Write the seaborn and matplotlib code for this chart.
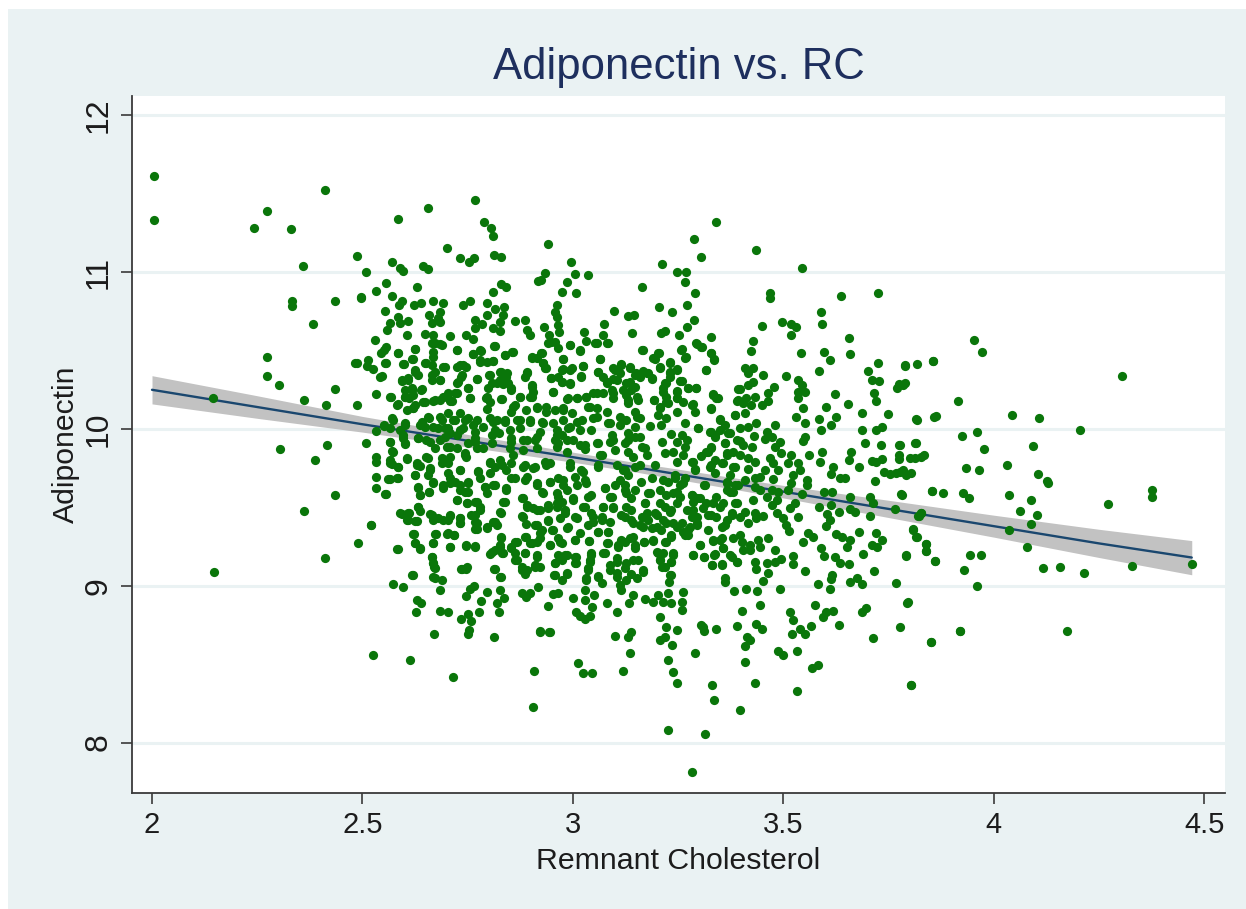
import matplotlib
matplotlib.use("Agg")
import matplotlib.pyplot as plt
from matplotlib.patches import Rectangle
import pandas as pd
import seaborn as sns

# values, one pair of lists per region of the cloud
outer_rc = [2.005,2.005,2.242,2.273,2.411,2.33,2.359,2.333,2.333,2.382,2.435,2.273,2.273,2.302,2.361,2.145,2.413,2.435,2.482,2.496,2.304,2.416,2.387,2.435,2.361,2.49,2.411,2.147,2.52,2.525,2.613,2.715,2.905,2.907,3.226,3.314,3.283,3.33,3.335,3.397,3.432,3.532,3.803,3.85,3.919,3.012,3.024,3.045,3.119,3.135,3.13,3.207,3.235,3.226,3.238,3.247,3.29,3.309,3.409,3.42,3.487,3.5,3.532,3.568,3.582,3.409,2.922,2.945]
outer_adipo = [11.614,11.333,11.282,11.39,11.525,11.276,11.04,10.817,10.785,10.67,10.817,10.459,10.338,10.28,10.185,10.2,10.153,10.255,10.42,10.84,9.87,9.9,9.8,9.58,9.477,9.27,9.18,9.087,9.39,8.558,8.526,8.418,8.226,8.456,8.08,8.054,7.81,8.37,8.27,8.207,8.38,8.33,8.367,8.64,8.71,8.507,8.443,8.443,8.456,8.57,8.67,8.654,8.62,8.526,8.45,8.38,8.57,8.737,8.616,8.654,8.584,8.558,8.584,8.475,8.494,8.514,8.705,8.705]

upper_left_rc = [2.767,2.656,2.585,2.789,2.805,2.809,2.941,2.70,2.486,2.732,2.754,2.765,2.813,2.829,2.571,2.589,2.597,2.643,2.656,2.508,2.996,2.933,3.006,3.035,2.918,2.924,2.986,2.557,2.629,2.828,2.84,2.532,2.81,2.975,3.007,2.496,2.571,2.593,2.586,2.622,2.64,2.668,2.692,2.738,2.755,2.796,2.963,2.836,2.815,2.957,2.553,3.097,2.796,2.684,2.659,2.68,3.131,3.145,2.585,2.565,2.589,2.609,2.664,2.684,2.767,2.834,2.826,2.862,2.887,2.961,2.965,3.074,2.931,2.783,2.767,2.811,2.826,2.559,2.89,2.967,2.606,2.648,2.667,2.709,2.747,2.762,2.898,2.942,3.026,3.141,3.072,2.53,3.032,2.949,2.993,3.056,3.08,2.555,2.672,2.684,2.813,2.965,3.017,2.625,2.724,2.545,2.585,2.668,2.762,2.781,2.838,2.856,2.925,2.902,2.977,3.064,2.486,2.514,2.555,2.598,2.619,2.651,2.78,2.809,2.93]
upper_left_adipo = [11.46,11.41,11.34,11.32,11.285,11.23,11.18,11.155,11.106,11.09,11.065,11.09,11.11,11.095,11.068,11.03,11.01,11.04,11.02,11.0,11.068,10.993,10.99,10.983,10.946,10.95,10.938,10.93,10.906,10.923,10.906,10.883,10.876,10.872,10.866,10.838,10.846,10.817,10.79,10.79,10.806,10.815,10.806,10.79,10.817,10.804,10.793,10.78,10.763,10.749,10.751,10.753,10.729,10.749,10.727,10.706,10.723,10.73,10.712,10.678,10.674,10.691,10.674,10.685,10.695,10.727,10.685,10.689,10.695,10.712,10.663,10.672,10.653,10.67,10.642,10.642,10.625,10.634,10.632,10.621,10.597,10.608,10.6,10.595,10.6,10.574,10.6,10.6,10.619,10.614,10.6,10.568,10.563,10.557,10.536,10.546,10.546,10.525,10.546,10.542,10.529,10.514,10.5,10.51,10.502,10.483,10.483,10.493,10.478,10.5,10.472,10.491,10.483,10.451,10.445,10.445,10.423,10.438,10.419,10.412,10.446,10.419,10.43,10.434,10.419]

shoulder_left_rc = [2.51,2.526,2.542,2.738,2.724,2.625,2.633,2.672,2.696,2.684,2.664,2.593,2.609,2.724,2.735,2.771,2.801,2.83,2.842,2.826,2.834,2.89,2.886,2.933,2.949,2.973,2.997,3.024,3.02,2.973,2.993,3.06,3.08,3.10,3.115,3.135,3.15,3.104,3.127,3.147,2.532,2.567,2.585,2.486,2.751,2.755,2.601,2.617,2.64,2.61,2.644,2.672,2.70,2.72,2.708,2.685,2.799,2.807,2.793,2.83,2.854,2.874,2.902,2.902,2.953,2.989,3.009,3.032,3.056,3.096,3.12,3.131,3.151,2.858,2.914,2.937,2.977,3.04,2.621]
shoulder_left_adipo = [10.40,10.38,10.334,10.408,10.398,10.376,10.344,10.366,10.398,10.312,10.312,10.312,10.312,10.295,10.334,10.317,10.344,10.366,10.334,10.312,10.287,10.359,10.334,10.387,10.323,10.376,10.387,10.402,10.334,10.302,10.287,10.366,10.302,10.376,10.408,10.387,10.355,10.312,10.291,10.27,10.223,10.206,10.159,10.153,10.259,10.195,10.206,10.249,10.249,10.195,10.174,10.185,10.206,10.227,10.18,10.185,10.259,10.291,10.195,10.191,10.259,10.206,10.27,10.206,10.238,10.195,10.195,10.206,10.227,10.227,10.249,10.185,10.206,10.142,10.142,10.142,10.131,10.142,10.131]

upper_right_rc = [3.34,3.288,3.434,3.305,3.212,3.545,3.247,3.268,3.267,3.165,3.29,3.467,3.468,3.636,3.725,3.272,3.204,3.235,3.59,3.287,3.496,3.517,3.529,3.591,3.449,3.27,3.218,3.21,3.252,3.327,3.517,3.655,3.427,3.292,3.305,3.167,3.257,3.423,3.329,3.541,3.597,3.657,3.205,3.267,3.335,3.195,3.61,3.231,3.79,3.855,3.207,3.317,3.408,3.428,3.167,3.179,3.23,3.246,3.584,3.702,3.416,3.188,3.23,3.452,3.505,3.534,3.727,3.258,3.218,3.428,3.784,3.769,3.416,3.274,3.292,3.478,3.545,3.397,3.464,3.213,3.248,3.535,3.551,3.333,3.345,3.715,3.623,3.192,3.393,3.412,3.432,3.464,3.534,3.719,3.246,3.222,3.262,3.286,3.404,3.424,3.448,3.653,3.207,3.328,3.547,3.602]
upper_right_adipo = [11.321,11.21,11.14,11.10,11.053,11.03,11.0,11.004,10.94,10.906,10.87,10.87,10.838,10.85,10.866,10.793,10.78,10.744,10.746,10.695,10.685,10.67,10.653,10.67,10.657,10.651,10.627,10.61,10.597,10.585,10.597,10.58,10.563,10.546,10.521,10.502,10.506,10.495,10.485,10.487,10.491,10.476,10.483,10.453,10.44,10.449,10.44,10.427,10.408,10.436,10.391,10.376,10.391,10.387,10.372,10.359,10.366,10.376,10.372,10.368,10.359,10.319,10.334,10.344,10.338,10.312,10.306,10.308,10.291,10.302,10.283,10.264,10.28,10.261,10.261,10.27,10.28,10.253,10.227,10.238,10.244,10.238,10.238,10.223,10.195,10.232,10.223,10.185,10.185,10.195,10.202,10.18,10.195,10.178,10.195,10.174,10.174,10.159,10.163,10.153,10.153,10.161,10.142,10.136,10.131,10.138]

right_rc = [3.686,3.749,3.815,3.857,3.531,3.551,3.584,3.59,3.614,3.624,3.686,3.72,3.733,3.551,3.547,3.693,3.731,3.777,3.815,3.56,3.591,3.587,3.66,3.656,3.711,3.721,3.735,3.775,3.801,3.826,3.68,3.617,3.613,3.634,3.646,3.754,3.777,3.783,3.802,3.717,3.555,3.557,3.543,3.596,3.615,3.659,3.705,3.713,3.779,3.853,3.614,3.584,3.631,3.658,3.67,3.765,3.705,3.82,3.828,3.535,3.604,3.61,3.602,3.513,3.679,3.808,3.816,3.559,3.571,3.547,3.626,3.638,3.658,3.65,3.721,3.735,3.711,3.723,3.838,3.838,3.59,3.597,3.622,3.634,3.656,3.689,3.791,3.86,3.716,3.551,3.615,3.614,3.658,3.674,3.686,3.581,3.61,3.768,3.361,3.452,3.464,3.383,3.412,3.438,3.492,3.444,3.575,3.794,3.401,3.515,3.523,3.618,3.602,3.593,3.696,3.686,3.632,3.389,3.436,3.448,3.565,3.539,3.551,3.521,3.776,3.341,3.305,3.311,3.248,3.221,3.218,3.414,3.712]
right_adipo = [10.10,10.095,10.061,10.078,10.078,10.04,10.061,9.993,10.025,10.078,9.993,9.993,10.01,9.951,9.925,9.908,9.895,9.895,9.908,9.834,9.855,9.791,9.855,9.802,9.795,9.791,9.808,9.806,9.815,9.819,9.755,9.759,9.712,9.685,9.685,9.715,9.723,9.738,9.717,9.668,9.674,9.642,9.585,9.595,9.595,9.568,9.564,9.53,9.583,9.602,9.517,9.502,9.472,9.489,9.472,9.489,9.447,9.444,9.461,9.44,9.457,9.419,9.383,9.351,9.344,9.359,9.31,9.338,9.312,9.281,9.327,9.312,9.291,9.249,9.334,9.291,9.259,9.244,9.266,9.223,9.242,9.191,9.185,9.142,9.14,9.202,9.193,9.159,9.095,9.091,9.068,9.04,9.021,9.047,9.01,9.008,8.98,9.019,9.025,9.029,9.08,8.966,8.978,8.966,8.978,8.878,8.876,8.893,8.84,8.834,8.781,8.838,8.834,8.802,8.861,8.834,8.749,8.744,8.759,8.727,8.742,8.727,8.691,8.691,8.734,8.725,8.749,8.71,8.717,8.734,8.674,8.67,8.668]

core_right_rc = [3.385,3.408,3.349,3.436,3.48,3.397,3.416,3.298,3.329,3.349,3.369,3.337,3.43,3.46,3.472,3.492,3.456,3.48,3.397,3.361,3.404,3.426,3.329,3.321,3.305,3.365,3.381,3.495,3.518,3.397,3.416,3.432,3.468,3.476,3.486,3.511,3.535,3.539,3.523,3.337,3.353,3.325,3.337,3.282,3.29,3.385,3.416,3.456,3.444,3.432,3.476,3.373,3.408,3.365,3.393,3.365,3.381,3.432,3.444,3.519,3.511,3.472,3.488,3.313,3.266,3.242,3.254,3.282,3.302,3.285,3.226,3.207,3.183,3.238,3.254,3.46,3.484,3.472,3.428,3.385,3.527,3.515,3.333,3.349,3.309,3.285,3.27,3.218,3.234,3.195,3.171,3.175,3.377,3.408,3.432,3.484,3.499,3.452,3.436,3.416,3.397,3.365,3.353,3.329,3.341,3.294,3.294,3.278,3.274,3.258,3.262,3.238,3.234,3.214,3.21,3.187,3.167,3.179,3.163,3.507,3.397,3.401,3.42,3.44,3.464,3.48,3.404,3.42,3.444,3.349,3.332,3.302,3.357,3.286,3.312,3.337,3.373,3.389,3.331,3.355,3.432,3.434,3.46,3.48,3.495,3.522,3.523,3.169,3.191,3.218,3.199,3.214,3.238,3.207,3.234,3.218,3.234,3.229,3.167,3.226,3.262,3.203,3.171,3.191,3.214,3.232,3.258,3.258,3.207]
core_right_adipo = [10.089,10.1,10.057,10.04,10.025,10.004,10.01,10.004,9.983,9.993,9.976,9.951,9.955,9.983,9.951,9.919,9.934,9.887,9.925,9.912,9.898,9.887,9.876,9.855,9.827,9.844,9.855,9.844,9.834,9.834,9.812,9.791,9.812,9.781,9.738,9.781,9.781,9.738,9.706,9.802,9.781,9.759,9.717,9.791,9.738,9.759,9.742,9.738,9.695,9.685,9.678,9.706,9.674,9.653,9.642,9.61,9.6,9.627,9.61,9.653,9.61,9.61,9.6,9.642,9.685,9.706,9.642,9.578,9.557,9.536,9.664,9.61,9.589,9.589,9.568,9.564,9.546,9.515,9.546,9.525,9.525,9.493,9.525,9.504,9.493,9.483,9.483,9.504,9.483,9.461,9.525,9.461,9.461,9.472,9.461,9.461,9.43,9.444,9.43,9.398,9.44,9.419,9.376,9.451,9.44,9.44,9.398,9.376,9.323,9.398,9.344,9.398,9.323,9.419,9.355,9.366,9.376,9.419,9.44,9.387,9.323,9.281,9.259,9.291,9.302,9.227,9.227,9.227,9.249,9.291,9.287,9.259,9.238,9.196,9.185,9.2,9.196,9.153,9.13,9.136,9.153,9.11,9.147,9.153,9.168,9.189,9.138,9.276,9.287,9.276,9.217,9.206,9.206,9.164,9.153,9.121,9.068,9.025,9.089,8.951,8.961,8.94,8.913,8.898,8.898,8.887,8.898,8.844,8.802]

lower_left_rc = [2.532,2.508,2.565,2.569,2.532,2.532,2.565,2.57,2.585,2.605,2.629,2.637,2.656,2.66,2.656,2.625,2.532,2.532,2.555,2.565,2.585,2.633,2.636,2.658,2.633,2.52,2.584,2.593,2.61,2.609,2.629,2.664,2.68,2.708,2.704,2.732,2.732,2.622,2.625,2.637,2.672,2.668,2.701,2.718,2.708,2.746,2.767,2.664,2.668,2.672,2.619,2.672,2.688,2.684,2.572,2.597,2.63,2.64,2.627,2.684,2.702,2.733,2.751,2.758,2.778,2.754,2.751,2.669,2.812,2.825,2.819,2.836,2.781,2.795,2.755,2.766,2.746,2.827,2.828,2.812,2.735,2.747,2.878,2.898,2.888,2.918,2.953,2.965,2.941,3.0,3.028,3.028,3.051,3.046,3.082,3.105,3.007,3.017,3.028,3.04,2.922,2.944,3.10,3.139,3.133,3.143]
lower_left_adipo = [9.989,9.912,9.915,9.861,9.823,9.791,9.802,9.775,9.759,9.806,9.781,9.765,9.812,9.738,9.706,9.706,9.691,9.621,9.583,9.678,9.685,9.621,9.578,9.6,9.504,9.387,9.232,9.457,9.461,9.419,9.413,9.451,9.43,9.447,9.42,9.43,9.398,9.327,9.27,9.236,9.329,9.274,9.332,9.323,9.249,9.257,9.253,9.185,9.142,9.115,9.068,9.047,9.036,8.976,9.012,8.995,8.912,8.891,8.834,8.838,8.834,8.791,8.819,8.776,8.832,8.717,8.691,8.695,8.674,8.834,8.887,8.919,8.9,8.957,8.982,8.997,8.934,8.976,9.053,9.108,9.11,9.11,8.951,8.951,8.93,8.993,8.946,8.951,8.874,8.925,8.972,8.912,8.944,8.866,8.893,8.83,8.834,8.806,8.791,8.806,8.712,8.702,8.679,8.706,8.891,8.94]

core_left_rc = [2.55,2.569,2.565,2.601,2.597,2.601,2.633,2.637,2.656,2.668,2.652,2.684,2.696,2.716,2.708,2.684,2.7,2.688,2.704,2.732,2.744,2.763,2.751,2.744,2.724,2.787,2.787,2.767,2.811,2.807,2.838,2.85,2.854,2.825,2.874,2.898,2.882,2.91,2.93,2.961,2.965,2.993,3.001,3.028,3.021,3.056,3.056,3.088,3.096,3.127,3.123,3.151,3.147,2.732,2.775,2.803,2.826,2.854,2.815,2.842,2.886,2.91,2.945,2.933,2.993,3.024,3.064,3.06,3.104,3.123,3.147,2.668,2.692,2.708,2.72,2.732,2.751,2.744,2.779,2.791,2.811,2.842,2.862,2.886,2.914,2.926,2.945,2.965,2.977,3.009,3.032,3.076,3.1,3.123,3.127,3.147,2.724,2.749,2.767,2.779,2.767,2.771,2.767,2.795,2.815,2.828,2.834,2.88,2.89,2.906,2.88,2.888,2.922,2.941,2.941,2.965,2.961,2.981,2.969,3.001,3.009,2.989,2.953,3.028,3.036,3.048,3.072,3.092,3.096,3.068,3.036,3.017,3.06,3.084,3.123,3.139,3.143]
core_left_adipo = [10.025,10.068,10.004,10.036,9.961,9.908,9.94,10.025,10.078,10.015,9.93,10.078,10.004,10.057,9.972,9.93,9.887,9.812,9.781,9.993,10.057,10.025,9.908,9.834,9.876,10.015,9.876,9.919,10.047,9.961,10.057,9.993,9.919,9.972,10.057,10.057,9.93,9.93,10.036,9.961,9.908,10.015,9.93,9.898,10.057,10.078,9.908,10.036,9.93,10.057,9.908,10.078,9.951,9.738,9.734,9.791,9.802,9.781,9.759,9.738,9.77,9.759,9.781,9.791,9.759,9.727,9.834,9.759,9.77,9.738,9.759,9.664,9.642,9.685,9.664,9.642,9.664,9.6,9.685,9.632,9.642,9.621,9.685,9.674,9.642,9.6,9.664,9.685,9.642,9.642,9.653,9.621,9.642,9.642,9.589,9.61,9.546,9.525,9.536,9.504,9.451,9.398,9.359,9.372,9.408,9.461,9.536,9.557,9.515,9.493,9.444,9.391,9.483,9.515,9.419,9.568,9.504,9.483,9.43,9.557,9.43,9.376,9.355,9.504,9.568,9.44,9.504,9.568,9.493,9.419,9.387,9.334,9.344,9.344,9.44,9.483,9.398]

lower_core_rc = [2.886,2.914,2.922,2.914,2.898,2.945,2.969,3.006,3.039,3.08,3.108,3.123,3.143,3.147,2.829,2.827,2.815,2.803,2.834,2.854,2.862,2.862,2.866,2.886,2.914,2.91,2.922,2.878,2.886,2.957,2.965,2.987,2.973,3.007,3.007,3.044,3.04,3.036,3.076,3.104,3.088,3.127,3.143,2.957,2.985,2.975,3.032,3.06,3.068,3.104,3.112,3.127,3.139,3.115]
lower_core_adipo = [9.312,9.387,9.334,9.281,9.27,9.259,9.281,9.291,9.285,9.27,9.259,9.281,9.312,9.259,9.306,9.249,9.227,9.202,9.206,9.249,9.281,9.206,9.164,9.206,9.196,9.121,9.121,9.121,9.078,9.142,9.196,9.196,9.164,9.185,9.142,9.206,9.153,9.1,9.206,9.153,9.1,9.142,9.164,9.068,9.078,9.036,9.036,9.057,9.015,9.057,9.004,9.036,9.078,8.972]

far_right_rc = [4.128,3.854,3.878,3.927,3.94,4.037,4.088,4.062,4.103,4.089,4.036,4.272,4.376,4.376,3.781,3.821,3.828,3.807,3.817,3.839,3.839,3.86,3.791,3.943,3.969,3.93,3.96,4.079,4.116,4.157,4.213,4.327,4.47,3.795,3.92,3.851,4.174,3.803,3.952,3.971,4.304,3.915,3.924,3.96,3.976,4.043,4.107,4.204,3.933,3.964,4.03,4.093,4.105,4.126,3.817,3.855,3.789,3.774,3.789,3.725,3.71,3.817,3.862,3.812,3.774,3.774,3.812,3.834,3.791,3.767,3.739]
far_right_adipo = [9.658,9.603,9.594,9.594,9.56,9.581,9.547,9.475,9.45,9.396,9.356,9.522,9.611,9.569,9.581,9.445,9.462,9.358,9.309,9.264,9.224,9.16,9.192,9.196,9.194,9.103,9.0,9.247,9.111,9.118,9.081,9.128,9.141,8.894,8.709,8.639,8.709,8.364,10.568,10.49,10.34,10.18,9.955,9.98,9.87,10.09,10.07,9.994,9.75,9.74,9.77,9.89,9.71,9.67,10.415,10.433,10.4,10.287,10.293,10.42,10.31,10.057,10.083,9.91,9.9,9.834,9.815,9.834,9.706,9.72,9.726]

# second pass over the dense middle of the cloud
dense_a_rc = [2.664,2.688,2.815,2.55,2.585,2.625,2.725,2.762,2.779,2.839,2.857,2.926,2.941,2.957,2.553,2.597,2.618,2.648,2.668,2.664,2.692,2.732,2.747,2.779,2.795,2.811,2.902,2.914,2.93,2.937,2.625,2.664,2.684,2.736,2.728,2.771,2.803,2.827,2.843,2.89,2.546,2.949,2.965,2.593,2.609,2.601,2.617,2.641,2.751,2.819,2.846,2.854,2.902,2.906,2.953,2.621,2.565,2.601,2.668,2.692,2.704,2.724,2.712,2.755,2.795,2.803,2.831,2.874,2.898,2.648,2.625,2.583,2.605,2.621,2.795,2.862,2.854,2.888,2.914,2.937,2.957,2.704,2.732,2.573,2.641,2.659,2.688,2.72,2.751,2.771,2.803,2.819,2.838,2.866,2.898,2.926,2.953,2.55,2.589,2.601,2.648,2.68,2.704,2.74,2.767,2.815,2.874,2.922,2.961,2.565,2.597,2.633,2.66,2.696,2.724,2.767,2.807,2.854,2.89,2.914,2.957,2.573,2.601,2.672,2.708,2.744,2.771,2.85,2.882,2.914,2.961,2.605,2.652,2.708,2.747,2.858]
dense_a_adipo = [10.547,10.536,10.53,10.504,10.483,10.508,10.504,10.479,10.504,10.472,10.494,10.483,10.551,10.557,10.423,10.415,10.447,10.419,10.462,10.408,10.398,10.408,10.398,10.44,10.43,10.436,10.457,10.451,10.419,10.387,10.366,10.345,10.313,10.345,10.302,10.317,10.345,10.366,10.355,10.362,10.338,10.323,10.334,10.308,10.323,10.249,10.26,10.253,10.26,10.291,10.291,10.249,10.281,10.238,10.238,10.217,10.206,10.202,10.181,10.206,10.228,10.232,10.181,10.196,10.206,10.174,10.189,10.202,10.202,10.174,10.153,10.153,10.121,10.132,10.125,10.153,10.111,10.121,10.132,10.111,10.121,10.1,10.1,10.057,10.047,10.068,10.057,10.057,10.068,10.057,10.068,10.057,10.047,10.057,10.047,10.047,10.036,10.019,9.993,10.025,10.015,10.004,10.004,10.004,9.983,9.993,10.004,9.983,9.993,9.919,9.94,9.94,9.919,9.951,9.962,9.94,9.908,9.94,9.93,9.951,9.93,9.855,9.904,9.876,9.887,9.844,9.876,9.876,9.866,9.876,9.887,9.813,9.823,9.823,9.823,9.834]

dense_b_rc = [2.565,2.585,2.629,2.66,2.688,2.704,2.732,2.775,2.803,2.831,2.882,2.906,2.937,2.561,2.581,2.625,2.668,2.708,2.751,2.803,2.854,2.89,2.914,2.945,2.553,2.633,2.637,2.658,2.692,2.732,2.751,2.791,2.795,2.842,2.93,2.961,2.815,2.724,2.749,2.771,2.838,2.882,2.961,2.633,2.637,2.779,2.827,2.89,2.914,2.941,2.589,2.609,2.66,2.708,2.882,2.759,2.605,2.625,2.668,2.692,2.732,2.732,2.767,2.811,2.941,2.91,2.771,2.795,2.819,2.951,2.926,2.621,2.674,2.704,2.717,2.828,2.888,2.922,2.965,2.625,2.668,2.746,2.767,2.827,2.866,2.902,2.945,2.583,2.637,2.708,2.807,2.831,2.854,2.886,2.914,2.664,2.668,2.862,2.957,2.91,2.67,2.736,2.749,2.815,2.878,2.89,2.955,2.618,2.827,2.668]
dense_b_adipo = [9.781,9.759,9.77,9.749,9.781,9.717,9.738,9.728,9.781,9.77,9.759,9.749,9.77,9.679,9.685,9.706,9.657,9.653,9.657,9.717,9.685,9.696,9.653,9.664,9.585,9.632,9.579,9.6,9.621,9.611,9.6,9.632,9.589,9.611,9.589,9.589,9.642,9.547,9.525,9.536,9.536,9.557,9.525,9.504,9.479,9.483,9.472,9.504,9.483,9.493,9.462,9.466,9.457,9.451,9.44,9.451,9.419,9.413,9.419,9.419,9.43,9.398,9.408,9.408,9.413,9.387,9.359,9.366,9.387,9.355,9.355,9.33,9.33,9.334,9.323,9.308,9.308,9.302,9.302,9.27,9.274,9.253,9.249,9.259,9.281,9.27,9.259,9.232,9.238,9.247,9.217,9.206,9.238,9.206,9.185,9.181,9.147,9.164,9.142,9.132,9.117,9.11,9.117,9.11,9.1,9.1,9.068,9.068,9.057,9.053]

dense_c_rc = [2.993,3.017,3.052,3.084,3.165,3.258,3.294,3.306,3.203,3.191,3.268,3.329,3.335,2.977,3.064,3.207,3.23,3.024,3.096,3.115,3.135,3.315,3.246,2.977,2.993,3.06,3.02,3.072,3.111,3.147,3.176,3.23,3.187,2.973,2.993,3.096,3.135,3.159,3.254,3.222,3.08,3.092,3.139,3.214,3.246,3.274,3.292,3.393,3.048,3.072,3.127,3.333,3.341,2.985,3.009,3.032,3.096,3.155,3.193,3.222,3.246,3.389,3.036,3.056,3.131,3.207,3.226,3.282,2.977,3.328,3.08,3.147,3.246,3.29,3.203,3.385,2.997,3.048,3.111,3.159,3.222,3.266,3.349,2.977,3.009,3.084,3.111,3.147,3.183,3.21,3.298,3.361,3.017,2.989,3.044,3.092,3.131,3.159,3.234,3.258,3.325,3.374,3.337,2.985,2.973,3.017,3.06,3.088,3.131,3.211,3.246,3.27,3.361,3.389,3.163,3.028,2.985,3.1,3.131,3.171,3.218,3.238,3.266,3.317,3.329,3.068,3.143,3.175,3.262,3.365]
dense_c_adipo = [10.536,10.504,10.547,10.551,10.504,10.508,10.542,10.525,10.483,10.451,10.457,10.487,10.445,10.445,10.445,10.398,10.423,10.402,10.387,10.415,10.398,10.377,10.381,10.381,10.377,10.366,10.338,10.334,10.355,10.345,10.355,10.355,10.323,10.302,10.291,10.317,10.302,10.334,10.308,10.291,10.291,10.249,10.249,10.26,10.238,10.26,10.264,10.253,10.228,10.232,10.217,10.217,10.196,10.189,10.196,10.202,10.196,10.185,10.185,10.206,10.196,10.181,10.142,10.132,10.164,10.132,10.164,10.153,10.121,10.128,10.106,10.111,10.111,10.111,10.089,10.089,10.1,10.068,10.079,10.068,10.068,10.036,10.062,10.057,10.047,10.036,10.026,10.011,10.019,10.026,10.004,10.026,9.993,10.004,9.993,9.962,9.972,9.951,9.968,9.962,9.983,9.972,9.962,9.93,9.962,9.898,9.913,9.919,9.93,9.919,9.919,9.93,9.908,9.93,9.887,9.87,9.855,9.866,9.855,9.876,9.849,9.855,9.887,9.855,9.883,9.834,9.823,9.834,9.834,9.834]

dense_d_rc = [2.993,3.02,3.06,3.119,3.159,3.195,3.246,3.286,3.29,3.329,3.381,3.357,2.977,3.005,3.028,3.076,3.111,3.131,3.161,3.188,3.214,3.242,3.262,3.312,3.365,3.385,2.985,3.044,3.088,3.123,3.139,3.179,3.222,3.246,3.282,3.294,3.341,3.373,2.973,3.001,3.024,3.072,3.096,3.127,3.171,3.207,3.246,3.317,3.357,3.389,2.981,3.005,3.044,3.068,3.115,3.139,3.171,3.199,3.23,3.282,3.321,3.377,2.985,3.048,3.088,3.159,3.199,3.222,3.246,3.274,3.294,3.361,3.06,3.084,3.234,3.266,3.321,3.005,3.039,2.973,3.084,3.115,3.135,3.169,3.191,3.222,3.333,3.353,3.381,3.108,3.147,3.302,3.357,2.981,3.005,3.044,3.072,3.203,3.238,3.286,3.311,3.335,3.377,3.104,3.155,3.005,3.04,3.207,3.234,3.33,3.355,3.389,3.036,3.088,3.123,3.167,3.211,2.985,3.06,3.104,3.23,3.032,3.151,3.361]
dense_d_adipo = [9.781,9.738,9.77,9.738,9.77,9.77,9.791,9.791,9.742,9.77,9.759,9.781,9.674,9.696,9.674,9.621,9.674,9.706,9.664,9.685,9.674,9.685,9.653,9.64,9.664,9.642,9.611,9.579,9.568,9.61,9.557,9.589,9.579,9.6,9.579,9.557,9.568,9.6,9.536,9.547,9.504,9.504,9.5,9.504,9.525,9.525,9.525,9.525,9.53,9.525,9.462,9.44,9.462,9.44,9.451,9.419,9.44,9.451,9.472,9.44,9.451,9.451,9.366,9.408,9.408,9.387,9.376,9.398,9.376,9.355,9.387,9.387,9.345,9.345,9.313,9.323,9.355,9.291,9.285,9.27,9.27,9.291,9.302,9.279,9.291,9.281,9.291,9.302,9.302,9.249,9.238,9.259,9.238,9.196,9.185,9.196,9.211,9.206,9.196,9.196,9.185,9.196,9.185,9.174,9.164,9.142,9.164,9.164,9.153,9.13,9.132,9.153,9.111,9.132,9.111,9.1,9.117,9.079,9.062,9.079,9.068,9.047,9.047,9.047]

# fitted line and its confidence band
fit_rc = [2.0, 2.25, 2.5, 2.75, 3.0, 3.15, 3.5, 3.75, 4.0, 4.25, 4.47]
fit_adipo = [10.25, 10.14, 10.03, 9.925, 9.82, 9.755, 9.60, 9.49, 9.38, 9.27, 9.18]
ci_low = [10.16, 10.068, 9.98, 9.885, 9.788, 9.725, 9.56, 9.435, 9.31, 9.18, 9.07]
ci_high = [10.34, 10.212, 10.08, 9.965, 9.852, 9.785, 9.64, 9.545, 9.45, 9.36, 9.288]

x_ticks = [2, 2.5, 3, 3.5, 4, 4.5]
x_labels = ["2", "2.5", "3", "3.5", "4", "4.5"]
y_ticks = [8, 9, 10, 11, 12]

rc = (outer_rc + upper_left_rc + shoulder_left_rc + upper_right_rc + right_rc
      + core_right_rc + lower_left_rc + core_left_rc + lower_core_rc + far_right_rc
      + dense_a_rc + dense_b_rc + dense_c_rc + dense_d_rc)
adipo = (outer_adipo + upper_left_adipo + shoulder_left_adipo + upper_right_adipo + right_adipo
         + core_right_adipo + lower_left_adipo + core_left_adipo + lower_core_adipo + far_right_adipo
         + dense_a_adipo + dense_b_adipo + dense_c_adipo + dense_d_adipo)
df = pd.DataFrame({"rc": rc, "adipo": adipo})

sns.set_theme(style="white")
plt.rcParams["font.family"] = ["Liberation Sans", "DejaVu Sans"]

W, H = 1246, 909
fig = plt.figure(figsize=(W / 100, H / 100), dpi=100, facecolor="white")
# light blue panel behind everything, white sliver on the top and left
fig.add_artist(Rectangle((8 / W, 0), 1, 1 - 9 / H, transform=fig.transFigure,
                         facecolor="#eaf2f3", edgecolor="none", zorder=-5))
ax = fig.add_axes([132 / W, 1 - 793 / H, (1225 - 132) / W, (793 - 96) / H])
ax.set_facecolor("white")

ax.fill_between(fit_rc, ci_low, ci_high, color="#c2c2c2", linewidth=0, zorder=2)
sns.lineplot(x=fit_rc, y=fit_adipo, color="#1a476f", linewidth=1.7, ax=ax, zorder=3)
sns.scatterplot(data=df, x="rc", y="adipo", color="#0a760a", s=44, linewidth=0, ax=ax, zorder=4)

ax.set_xlim(1.9525, 4.549)
ax.set_ylim(7.678, 12.124)
ax.set_xticks(x_ticks, x_labels)
ax.set_yticks(y_ticks)
ax.grid(axis="y", color="#eaf2f3", linewidth=2.2, zorder=0)
ax.set_axisbelow(True)

for side in ["top", "right"]:
    ax.spines[side].set_visible(False)
for side in ["left", "bottom"]:
    ax.spines[side].set_color("#3a3a3a")
    ax.spines[side].set_linewidth(1.3)

ax.tick_params(axis="x", length=8, width=1.2, color="#3a3a3a", labelsize=21, labelcolor="#1c1c1c", pad=5, bottom=True)
ax.tick_params(axis="y", length=8, width=1.2, color="#3a3a3a", labelsize=23, labelcolor="#1c1c1c", pad=5, left=True)
for lab in ax.get_yticklabels():
    lab.set_rotation(90)
    lab.set_va("center")

ax.set_xlabel("Remnant Cholesterol", fontsize=21.8, color="#1c1c1c", labelpad=6)
ax.set_ylabel("Adiponectin", fontsize=21.7, color="#1c1c1c", labelpad=3)
ax.set_title("Adiponectin vs. RC", fontsize=31.4, color="#1e2f5e", pad=12)

fig.savefig("out.png", dpi=100, facecolor=fig.get_facecolor())
